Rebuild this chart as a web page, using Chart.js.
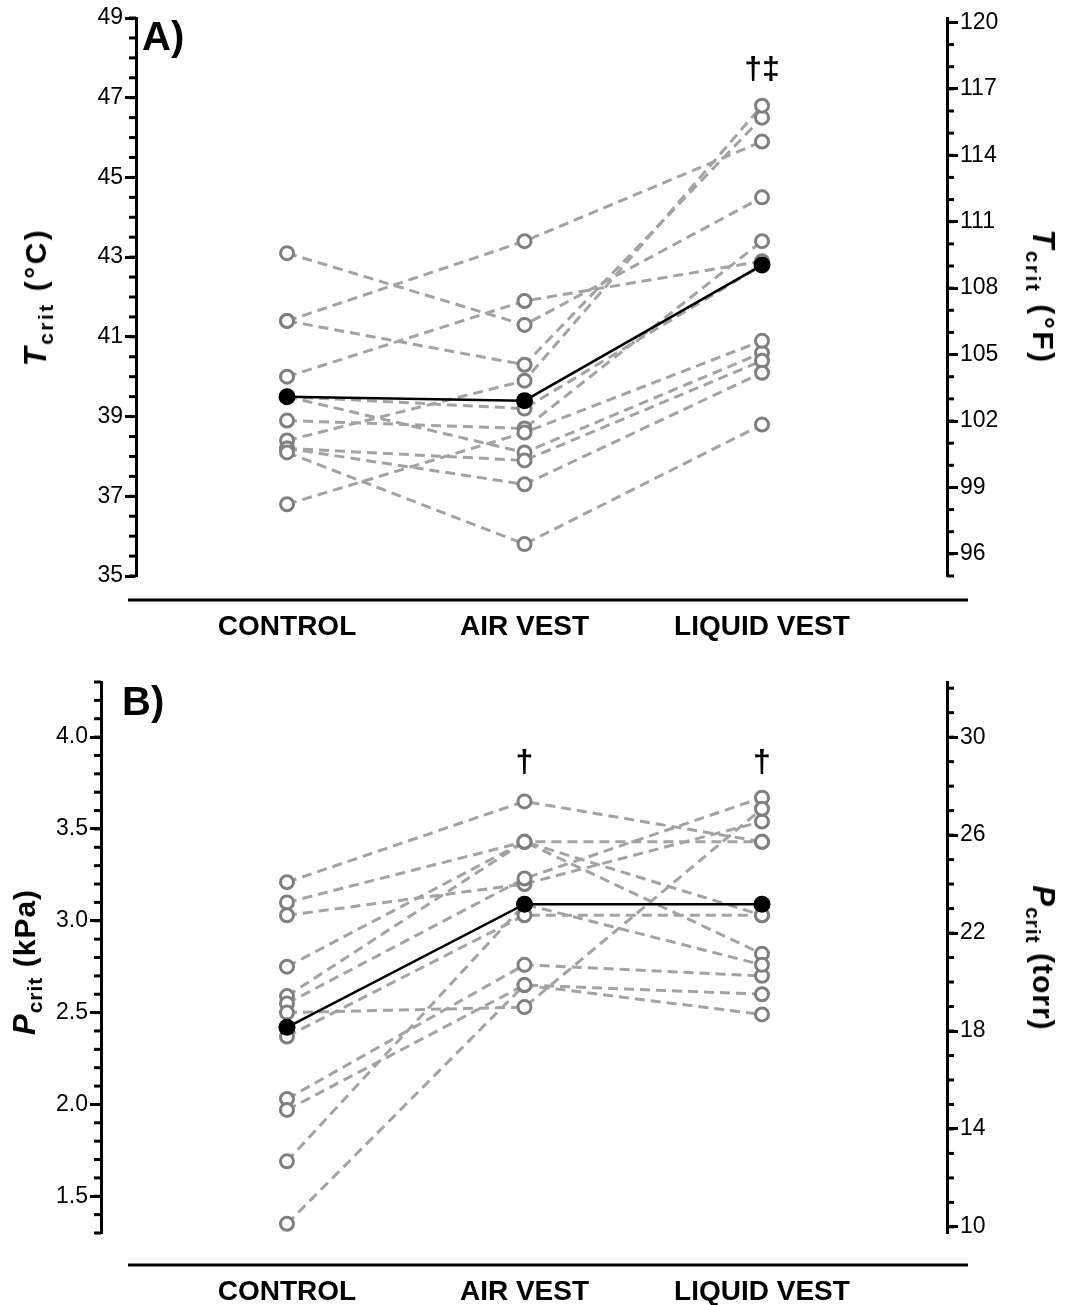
<!DOCTYPE html>
<html>
<head>
<meta charset="utf-8">
<script src="https://cdn.jsdelivr.net/npm/chart.js@4.4.1/dist/chart.umd.min.js"></script>
<style>
  html, body { margin: 0; padding: 0; background: #fff; }
  body { width: 1069px; height: 1305px; position: relative; overflow: hidden;
         font-family: "Liberation Sans", Arial, sans-serif; color: #000; }
  .panel { position: absolute; left: 0; width: 1069px; }
  #panelA { top: 0; height: 650px; }
  #panelB { top: 650px; height: 655px; }
  canvas { display: block; }
  .ytitle { position: absolute; font-weight: bold; font-size: 30px; white-space: nowrap; letter-spacing: 1px; }
  .ytitle i { font-size: 31px; }
  .ytitle .sub { font-size: 21px; position: relative; top: 7px; }
  .wide { letter-spacing: 2.5px; }
  .rotL { transform: translate(-50%, -50%) rotate(-90deg); }
  .rotR { transform: translate(-50%, -50%) rotate(90deg); }
  .tag { position: absolute; font-weight: bold; font-size: 40px; line-height: 40px; }
</style>
</head>
<body>
<div class="panel" id="panelA"><canvas id="chartA" width="1069" height="650"></canvas></div>
<div class="panel" id="panelB"><canvas id="chartB" width="1069" height="655"></canvas></div>

<div class="tag" style="left:142px; top:16px;">A)</div>
<div class="tag" style="left:122px; top:681px;">B)</div>

<div class="ytitle wide rotL" style="left:36px; top:297px;"><i>T</i><span class="sub">crit</span> (°C)</div>
<div class="ytitle wide rotR" style="left:1043px; top:297px;"><i>T</i><span class="sub">crit</span> (°F)</div>
<div class="ytitle rotL" style="left:25px; top:962px;"><i>P</i><span class="sub">crit</span> (kPa)</div>
<div class="ytitle rotR" style="left:1043px; top:958px;"><i>P</i><span class="sub">crit</span> (torr)</div>

<script>
// categorias
const categories = ['CONTROL', 'AIR VEST', 'LIQUID VEST'];

// Painel A - Tcrit (°C), um valor por sujeito
const tcritControl = [43.1, 41.4, 41.4, 40.0, 39.5, 39.5, 38.9, 38.4, 38.2, 38.2, 38.1, 36.8];
const tcritAir     = [41.3, 43.4, 40.3, 41.9, 39.2, 38.1, 38.7, 39.9, 37.9, 37.3, 35.8, 38.6];
const tcritLiquid  = [44.5, 45.9, 46.5, 42.9, 42.8, 40.6, 43.4, 46.8, 40.4, 40.1, 38.8, 40.9];
const tcritMean    = [39.5, 39.4, 42.8];

// Painel B - Pcrit (kPa)
const pcritControl = [3.21, 3.10, 3.03, 2.75, 2.59, 2.55, 2.50, 2.37, 2.03, 1.97, 1.69, 1.35];
const pcritAir     = [3.65, 3.43, 3.20, 3.43, 3.43, 3.23, 2.53, 3.03, 2.76, 2.65, 3.09, 2.65];
const pcritLiquid  = [3.43, 3.43, 3.54, 2.82, 3.03, 3.67, 3.61, 3.03, 2.70, 2.60, 2.76, 2.49];
const pcritMean    = [2.42, 3.09, 3.09];

// ticks
const tcritTicksC    = [35, 37, 39, 41, 43, 45, 47, 49];
const tcritTicksF    = [96, 99, 102, 105, 108, 111, 114, 117, 120];
const pcritTicksKPa  = [1.5, 2.0, 2.5, 3.0, 3.5, 4.0];
const pcritTicksTorr = [10, 14, 18, 22, 26, 30];

// marcas de significância
const tcritMarks = ['', '', '†‡'];
const pcritMarks = ['', '†', '†'];

const FONT = '"Liberation Sans", Arial, sans-serif';
const toF = c => c * 1.8 + 32;
const toTorr = k => k * 7.50062;

// eixos estilo Prism: ticks menores, linha do eixo X deslocada, marcas
const prismAxes = {
  id: 'prismAxes',
  afterDraw(chart, args, o) {
    const ctx = chart.ctx;
    const area = chart.chartArea;
    ctx.save();
    ctx.strokeStyle = '#000';
    ctx.lineWidth = 3;
    o.minor.forEach(m => {
      const s = chart.scales[m.axis];
      for (let k = Math.ceil(s.min / m.step - 1e-6); k * m.step <= s.max + 1e-6; k++) {
        const y = s.getPixelForValue(k * m.step);
        ctx.beginPath();
        if (s.position === 'left') { ctx.moveTo(s.right - m.len, y); ctx.lineTo(s.right, y); }
        else { ctx.moveTo(s.left, y); ctx.lineTo(s.left + m.len, y); }
        ctx.stroke();
      }
    });
    // linha do eixo X
    ctx.beginPath();
    ctx.moveTo(o.xFrom, area.bottom + o.xGap);
    ctx.lineTo(o.xTo, area.bottom + o.xGap);
    ctx.stroke();
    // marcas
    ctx.fillStyle = '#000';
    ctx.font = 'bold 32px ' + FONT;
    ctx.textAlign = 'center';
    ctx.textBaseline = 'middle';
    o.marks.forEach((txt, i) => {
      if (!txt) return;
      ctx.fillText(txt, chart.scales.x.getPixelForValue(i), chart.scales.y.getPixelForValue(o.markValue));
    });
    ctx.restore();
  }
};

function subjectSets(ctrl, air, liq, mean) {
  const sets = [];
  // média por cima de tudo
  sets.push({
    data: mean.map((v, i) => ({ x: i, y: v })),
    borderColor: '#000', borderWidth: 2.5,
    pointRadius: 8.5, pointBackgroundColor: '#000', pointBorderColor: '#000', pointBorderWidth: 0,
    order: 0
  });
  const pts = [];
  ctrl.forEach((c, i) => {
    const row = [c, air[i], liq[i]];
    sets.push({
      data: row.map((v, j) => ({ x: j, y: v })),
      borderColor: '#a3a3a3', borderWidth: 3, borderDash: [10, 6],
      pointRadius: 0, order: 2
    });
    row.forEach((v, j) => pts.push({ x: j, y: v }));
  });
  sets.push({
    data: pts, showLine: false,
    pointRadius: 6.5, pointBorderWidth: 3, pointBorderColor: '#7f7f7f', pointBackgroundColor: '#fff',
    order: 1
  });
  return sets;
}

function yAxis(pos, min, max, ticks, fmt, width) {
  return {
    type: 'linear', position: pos, min: min, max: max,
    afterBuildTicks: s => { s.ticks = ticks.map(v => ({ value: v })); },
    afterFit: s => { s.width = width; },
    ticks: { color: '#000', font: { family: FONT, size: 23 }, padding: 2, callback: fmt },
    grid: { drawOnChartArea: false, tickLength: 11, tickWidth: 3, tickColor: '#000' },
    border: { color: '#000', width: 3 }
  };
}

function makeChart(id, cfg) {
  return new Chart(document.getElementById(id).getContext('2d'), {
    type: 'line',
    data: { datasets: subjectSets(cfg.ctrl, cfg.air, cfg.liq, cfg.mean) },
    options: {
      responsive: false, animation: false, devicePixelRatio: 1,
      layout: { padding: { top: cfg.top, left: 0, right: 0, bottom: 0 } },
      scales: {
        x: {
          type: 'linear', min: cfg.xMin, max: cfg.xMax,
          afterBuildTicks: s => { s.ticks = categories.map((c, i) => ({ value: i })); },
          afterFit: s => { s.height = cfg.xHeight; },
          ticks: { color: '#000', font: { family: FONT, size: 28, weight: 'bold' }, padding: cfg.xPad,
                   maxRotation: 0, autoSkip: false, callback: v => categories[v] },
          grid: { display: false }, border: { display: false }
        },
        y: yAxis('left', cfg.yMin, cfg.yMax, cfg.ticksL, cfg.fmtL, cfg.leftW),
        y2: yAxis('right', cfg.conv(cfg.yMin), cfg.conv(cfg.yMax), cfg.ticksR, v => v, 122)
      },
      plugins: {
        legend: { display: false }, tooltip: { enabled: false },
        prismAxes: { minor: cfg.minor, xGap: cfg.xGap, xFrom: 128, xTo: 968, marks: cfg.marks, markValue: cfg.markValue }
      }
    },
    plugins: [prismAxes]
  });
}

makeChart('chartA', {
  ctrl: tcritControl, air: tcritAir, liq: tcritLiquid, mean: tcritMean,
  top: 18, xHeight: 74, xGap: 24, xPad: 26,
  xMin: -0.636, xMax: 2.779, leftW: 136,
  yMin: 35, yMax: 49, ticksL: tcritTicksC, fmtL: v => v,
  conv: toF, ticksR: tcritTicksF,
  minor: [{ axis: 'y', step: 0.5, len: 7 }, { axis: 'y2', step: 1, len: 7 }],
  marks: tcritMarks, markValue: 47.7
});

makeChart('chartB', {
  ctrl: pcritControl, air: pcritAir, liq: pcritLiquid, mean: pcritMean,
  top: 32, xHeight: 72, xGap: 32, xPad: 34,
  xMin: -0.783, xMax: 2.779, leftW: 101,
  yMin: 1.3, yMax: 4.3, ticksL: pcritTicksKPa, fmtL: v => v.toFixed(1),
  conv: toTorr, ticksR: pcritTicksTorr,
  minor: [{ axis: 'y', step: 0.1, len: 7 }, { axis: 'y2', step: 1, len: 7 }],
  marks: pcritMarks, markValue: 3.86
});
</script>
</body>
</html>
